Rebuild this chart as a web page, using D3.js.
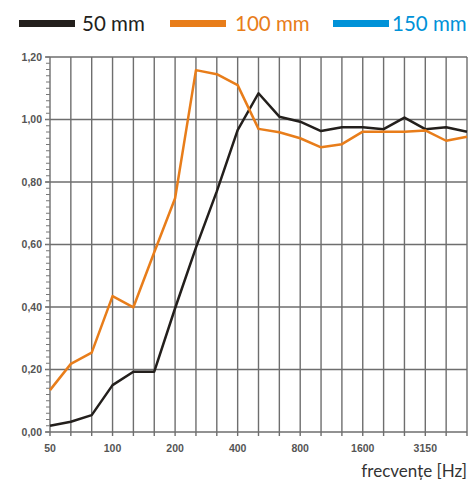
<!DOCTYPE html>
<html><head><meta charset="utf-8">
<script src="https://cdn.jsdelivr.net/npm/d3@7"></script>
<style>html,body{margin:0;padding:0;background:#fff;}</style>
</head><body>
<script>
const frequencies = [50,63,80,100,125,160,200,250,315,400,500,630,800,1000,1250,1600,2000,2500,3150,4000,5000];
const xTickLabels = ["50","100","200","400","800","1600","3150"];
const yTicks = [0,0.2,0.4,0.6,0.8,1.0,1.2];
const seriesNames = ["50 mm","100 mm","150 mm"];
const seriesColors = ["#231f1c","#e87d1a","#0092d8"];
const values50 = [0.02,0.033,0.054,0.15,0.193,0.193,0.396,0.59,0.77,0.966,1.084,1.009,0.993,0.963,0.975,0.975,0.969,1.006,0.969,0.975,0.961];
const values100 = [0.134,0.218,0.254,0.435,0.399,0.575,0.748,1.158,1.145,1.11,0.97,0.959,0.94,0.911,0.921,0.961,0.961,0.961,0.965,0.932,0.945];
const values150 = [];

const W=469,H=484;
const svg=d3.select("body").append("svg").attr("width",W).attr("height",H);
const x=d3.scalePoint().domain(frequencies.map(String)).range([50,467]);
const y=d3.scaleLinear().domain([0,1.2]).range([432,57]);

const grid=svg.append("g");
// vertical lines
grid.selectAll("line.v").data(frequencies).join("line")
  .attr("x1",d=>x(String(d))).attr("x2",d=>x(String(d)))
  .attr("y1",y(1.2)).attr("y2",y(0)+4)
  .attr("stroke","#6e6e6e").attr("stroke-width",1.4);
// horizontal lines
grid.selectAll("line.h").data(yTicks).join("line")
  .attr("x1",45).attr("x2",467)
  .attr("y1",d=>y(d)).attr("y2",d=>y(d))
  .attr("stroke","#6e6e6e").attr("stroke-width",1.4);
// minor y ticks
const minor=d3.range(0,61).map(i=>i*0.02);
grid.selectAll("line.m").data(minor).join("line")
  .attr("x1",46).attr("x2",50)
  .attr("y1",d=>y(d)).attr("y2",d=>y(d))
  .attr("stroke","#777").attr("stroke-width",1);

// y labels
svg.append("g").selectAll("text").data(yTicks).join("text")
  .attr("x",42).attr("y",d=>y(d)+3.5).attr("text-anchor","end")
  .attr("font-family","'Liberation Sans Narrow','Liberation Sans',Arial,sans-serif")
  .attr("font-size",10.5).attr("fill","#555").attr("font-weight","bold")
  .text(d=>d.toFixed(2).replace(".",","));
// x labels
svg.append("g").selectAll("text").data(xTickLabels).join("text")
  .attr("x",d=>x(d)).attr("y",452).attr("text-anchor","middle")
  .attr("font-family","'Liberation Sans Narrow','Liberation Sans',Arial,sans-serif")
  .attr("font-size",10.5).attr("fill","#555").attr("font-weight","bold")
  .text(d=>d);
svg.append("text").attr("x",467).attr("y",477).attr("text-anchor","end")
  .attr("font-family","Lato,'Open Sans',sans-serif").attr("font-size",17).attr("fill","#333")
  .text("frecvențe [Hz]");

const line=d3.line().x((d,i)=>x(String(frequencies[i]))).y(d=>y(d));
[values50,values100,values150].forEach((vals,k)=>{
  if(!vals.length) return;
  svg.append("path").datum(vals).attr("d",line).attr("fill","none")
    .attr("stroke",seriesColors[k]).attr("stroke-width",2.5).attr("stroke-linejoin","round");
});

// legend
const legX=[[19,82],[170,235],[333,392]];
seriesNames.forEach((n,k)=>{
  svg.append("rect").attr("x",legX[k][0]).attr("y",20).attr("width",56).attr("height",7).attr("fill",seriesColors[k]);
  svg.append("text").attr("x",legX[k][1]).attr("y",31).attr("font-family","Lato,'Open Sans',sans-serif")
    .attr("font-size",20.5).attr("fill",seriesColors[k]).text(n);
});
</script>
</body></html>
